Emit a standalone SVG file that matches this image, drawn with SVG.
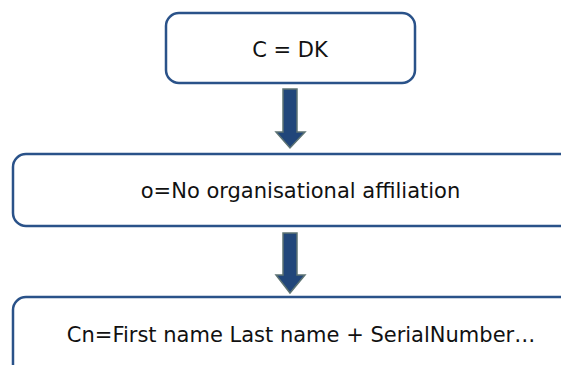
<svg xmlns="http://www.w3.org/2000/svg" width="561" height="365" viewBox="0 0 561 365">
<defs>
<style>
.box{fill:#ffffff;stroke:#2a5289;stroke-width:2.5}
.lbl{font-family:"DejaVu Sans","Verdana",sans-serif;font-size:21px;fill:#111111;text-anchor:middle}
.arr{fill:#21467a;stroke:#5d7373;stroke-width:1.5;stroke-linejoin:miter}
</style>
</defs>
<rect width="561" height="365" fill="#ffffff"/>
<g id="connectors">
<path class="arr" d="M283,89 H297 V132 H305 L290,148 L276,132 H283 Z"/>
<path class="arr" d="M283,233 H297 V275 H305 L290,293 L276,275 H283 Z"/>
</g>
<g id="node-c">
<rect class="box" x="166" y="13" width="249" height="70" rx="13"/>
<text class="lbl" x="290" y="57">C = DK</text>
</g>
<g id="node-o">
<rect class="box" x="13" y="154" width="570" height="72" rx="13"/>
<text class="lbl" x="300.5" y="198">o=No organisational affiliation</text>
</g>
<g id="node-cn">
<rect class="box" x="13" y="297" width="570" height="90" rx="13"/>
<text class="lbl" x="301" y="342">Cn=First name Last name + SerialNumber…</text>
</g>
</svg>
